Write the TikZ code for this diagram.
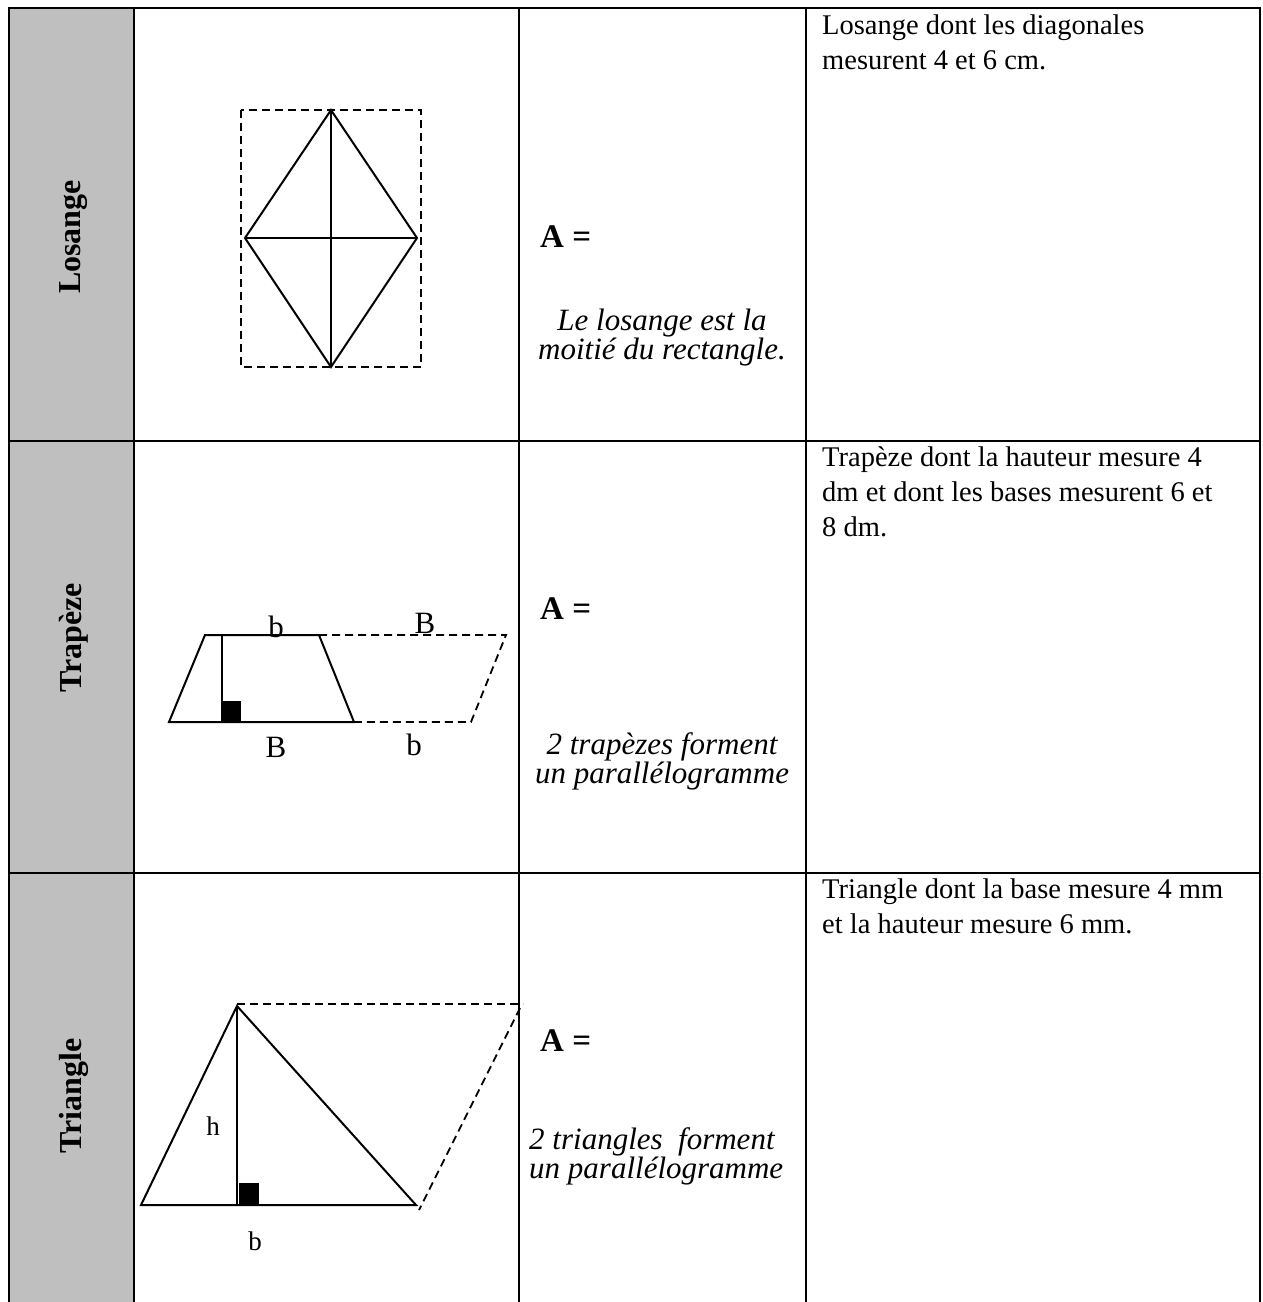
\documentclass[tikz,border=0pt]{standalone}
\usepackage{fontspec}
\setmainfont{Liberation Serif}
\begin{document}
\begin{tikzpicture}[x=1pt,y=-1pt,
  gridline/.style={line width=2.2pt},
  figline/.style={line width=2pt, line join=miter},
  dashline/.style={line width=1.8pt, dash pattern=on 8pt off 5pt},
  body/.style={font=\fontsize{28.5}{35}\selectfont, inner sep=0pt, anchor=base west},
  note/.style={font=\itshape\fontsize{31}{30}\selectfont, inner sep=0pt, anchor=base},
  noteleft/.style={note, anchor=base west},
  formula/.style={font=\bfseries\fontsize{33}{34}\selectfont, inner sep=0pt, anchor=base west},
  rowlabel/.style={font=\bfseries\fontsize{32}{34}\selectfont, inner sep=0pt, rotate=90},
  letter/.style={font=\fontsize{31}{34}\selectfont, inner sep=0pt, anchor=base},
  smallletter/.style={font=\fontsize{27}{30}\selectfont, inner sep=0pt, anchor=base}]
\useasboundingbox (0,0) rectangle (1263,1302);
\fill[white] (0,0) rectangle (1263,1302);
% grey label column
\fill[black!25] (9,8) rectangle (134,1302);
% table grid
\draw[gridline] (9,1302) -- (9,8) -- (1260,8) -- (1260,1302);
\foreach \gx in {134,519,806} \draw[gridline] (\gx,8) -- (\gx,1302);
\foreach \gy in {441,873} \draw[gridline] (9,\gy) -- (1260,\gy);

% row labels
\node[rowlabel] (lab1) at (74,237) {Losange};
\node[rowlabel] (lab2) at (74,638) {Trapèze};
\node[rowlabel] (lab3) at (74,1096) {Triangle};

% ---- Losange figure
\coordinate (Lt) at (331,110);
\coordinate (Lb) at (331,367);
\coordinate (Ll) at (245,238);
\coordinate (Lr) at (417,238);
\draw[dashline] (241,110) rectangle (421,367);
\draw[figline] (Lt) -- (Lr) -- (Lb) -- (Ll) -- cycle;
\draw[figline] (Lt) -- (Lb);
\draw[figline] (Ll) -- (Lr);

% ---- Trapeze figure
\coordinate (Ttl) at (205,635);
\coordinate (Ttr) at (319,635);
\coordinate (Tbr) at (354,722);
\coordinate (Tbl) at (169,722);
\coordinate (Th1) at (222,635);
\coordinate (Th2) at (222,722);
\coordinate (Pt) at (506,635);
\coordinate (Pb) at (471,722);
\draw[figline] (Ttl) -- (Ttr) -- (Tbr) -- (Tbl) -- cycle;
\draw[figline] (Th1) -- (Th2);
\fill (222,701) rectangle (241,722);
\draw[dashline] (Ttr) -- (Pt) -- (Pb) -- (Tbr);
\node[letter] (tb1) at (276,637) {b};
\node[letter] (tB1) at (425,633) {B};
\node[letter] (tB2) at (276,757) {B};
\node[letter] (tb2) at (414,755) {b};

% ---- Triangle figure
\coordinate (Ra) at (237,1006);
\coordinate (Rl) at (141,1205);
\coordinate (Rr) at (416,1205);
\coordinate (Rh) at (237,1205);
\coordinate (Qt) at (523,1004);
\coordinate (Qs) at (520,1008);
\coordinate (Qb) at (419,1210);
\draw[figline] (Ra) -- (Rr) -- (Rl) -- cycle;
\draw[figline] (Ra) -- (Rh);
\fill (239,1183) rectangle (259,1204);
\draw[dashline] (237,1004) -- (Qt);
\draw[dashline] (Qs) -- (Qb);
\node[smallletter] (rh) at (213,1135) {h};
\node[smallletter] (rb) at (255,1250) {b};

% ---- formula column
\node[formula] (A1) at (540,247) {A =};
\node[note] (n1a) at (662,330) {Le losange est la};
\node[note] (n1b) at (662,359) {moitié du rectangle.};
\node[formula] (A2) at (540,619) {A =};
\node[note] (n2a) at (662,754) {2 trapèzes forment};
\node[note] (n2b) at (662,783) {un parallélogramme};
\node[formula] (A3) at (540,1051) {A =};
\node[noteleft] (n3a) at (529,1149) {2 triangles\ \ forment};
\node[noteleft] (n3b) at (529,1178) {un parallélogramme};

% ---- exercise column
\node[body] (e1a) at (822,34) {Losange dont les diagonales};
\node[body] (e1b) at (822,69) {mesurent 4 et 6 cm.};
\node[body] (e2a) at (822,466) {Trapèze dont la hauteur mesure 4};
\node[body] (e2b) at (822,501) {dm et dont les bases mesurent 6 et};
\node[body] (e2c) at (822,536) {8 dm.};
\node[body] (e3a) at (822,898) {Triangle dont la base mesure 4 mm};
\node[body] (e3b) at (822,933) {et la hauteur mesure 6 mm.};
\end{tikzpicture}
\end{document}
